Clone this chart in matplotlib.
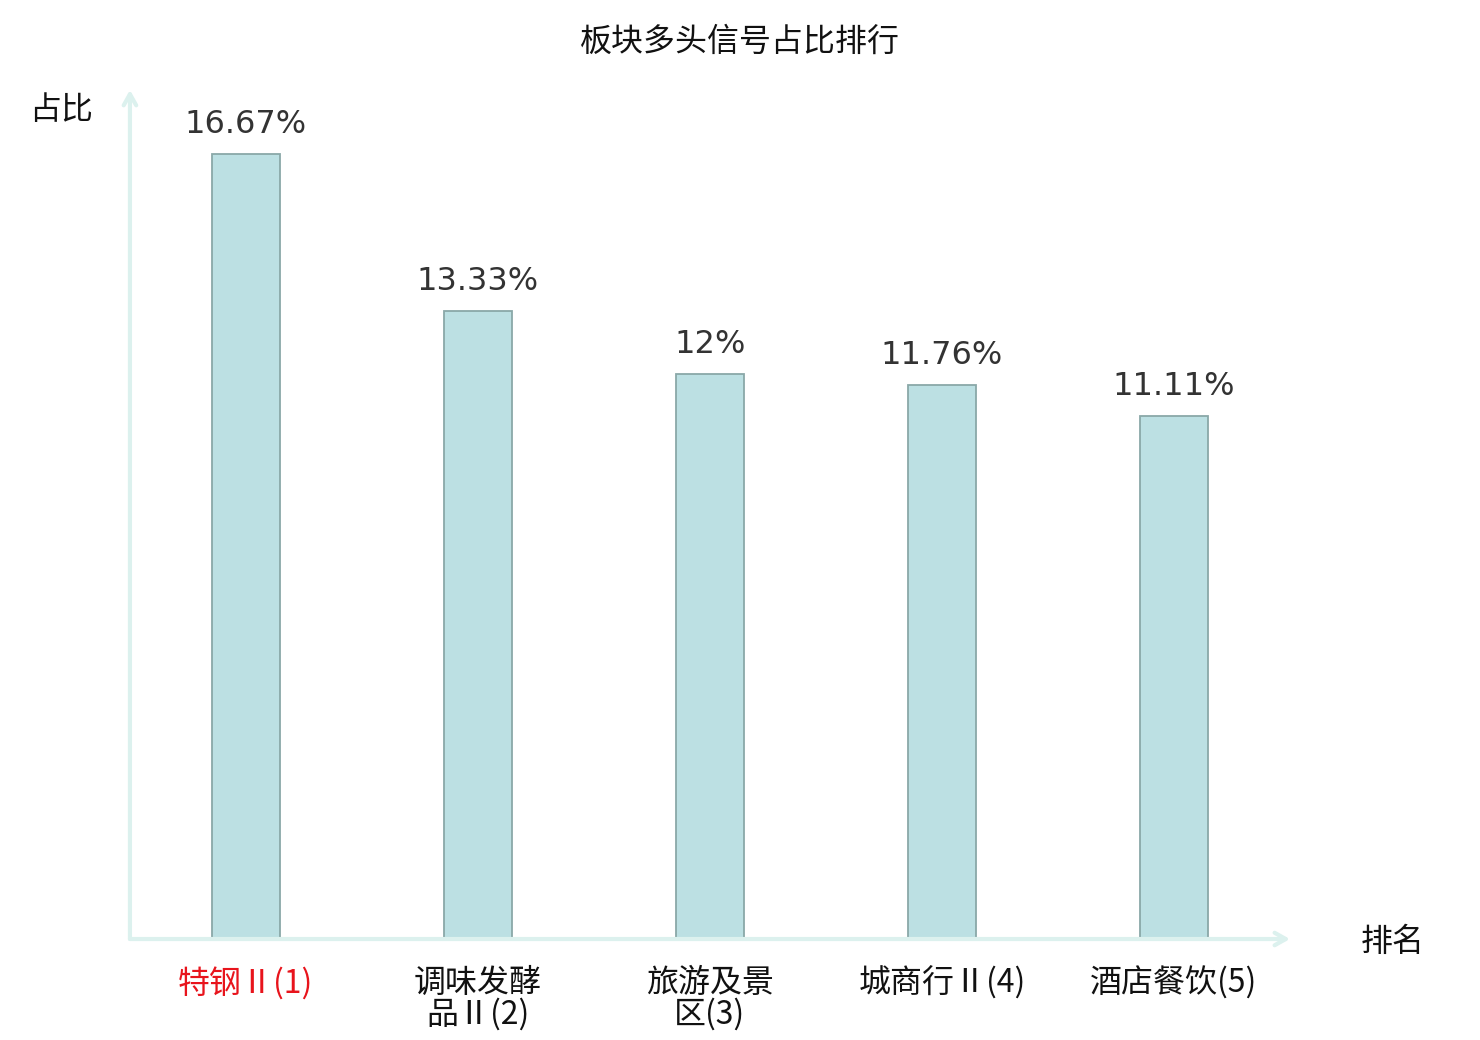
import matplotlib
matplotlib.use("Agg")
import matplotlib.pyplot as plt

plt.rcParams["font.family"] = ["Noto Sans CJK SC", "DejaVu Sans"]

# ── data ──────────────────────────────────────────────────────────────────────
sectors = ["特钢Ⅱ(1)", "调味发酵\n品Ⅱ(2)", "旅游及景\n区(3)", "城商行Ⅱ(4)", "酒店餐饮(5)"]
shares = [16.67, 13.33, 12, 11.76, 11.11]
share_labels = ["16.67%", "13.33%", "12%", "11.76%", "11.11%"]

AXIS_COLOUR = "#dcf1ee"
BAR_FILL = "#bce0e3"
BAR_EDGE = "#8aa8a8"

fig = plt.figure(figsize=(14.8, 10.4), dpi=100)
ax = fig.add_axes([0.0878, 0.0971, 0.7838, 0.8164])

x = list(range(len(sectors)))
bars = ax.bar(x, shares, width=0.293, color=BAR_FILL, edgecolor=BAR_EDGE,
              linewidth=1.3, zorder=3)

for xi, v, lab in zip(x, shares, share_labels):
    ax.annotate(lab, (xi, v), xytext=(0, 10), textcoords="offset points",
                ha="center", va="bottom", fontsize=23, color="#333333",
                family="DejaVu Sans")

ax.set_xlim(-0.5, 4.5)
ax.set_ylim(0, 18.03)
ax.set_yticks([])
ax.set_xticks(x)
ax.set_xticklabels(sectors, fontsize=23, linespacing=0.98)
ax.tick_params(axis="x", length=0, pad=20)
for i, t in enumerate(ax.get_xticklabels()):
    t.set_color("#e8141c" if i == 0 else "#111111")
for s in ax.spines.values():
    s.set_visible(False)

# arrowed axes
arrow = dict(arrowstyle="->,head_length=0.8,head_width=0.45", color=AXIS_COLOUR,
             lw=3, shrinkA=0, shrinkB=0)
ax.annotate("", xy=(0, 1.0), xytext=(0, 0), xycoords="axes fraction",
            arrowprops=arrow, annotation_clip=False)
ax.annotate("", xy=(1.0, 0), xytext=(0, 0), xycoords="axes fraction",
            arrowprops=arrow, annotation_clip=False)

fig.text(93 / 1480, 1 - 110 / 1040, "占比", ha="right", va="center",
         fontsize=23, color="#111111")
fig.text(1361 / 1480, 1 - 942 / 1040, "排名", ha="left", va="center",
         fontsize=23, color="#111111")
fig.text(0.5, 1 - 42 / 1040, "板块多头信号占比排行", ha="center", va="center",
         fontsize=23, color="#111111")

fig.savefig("out.png", dpi=100)
